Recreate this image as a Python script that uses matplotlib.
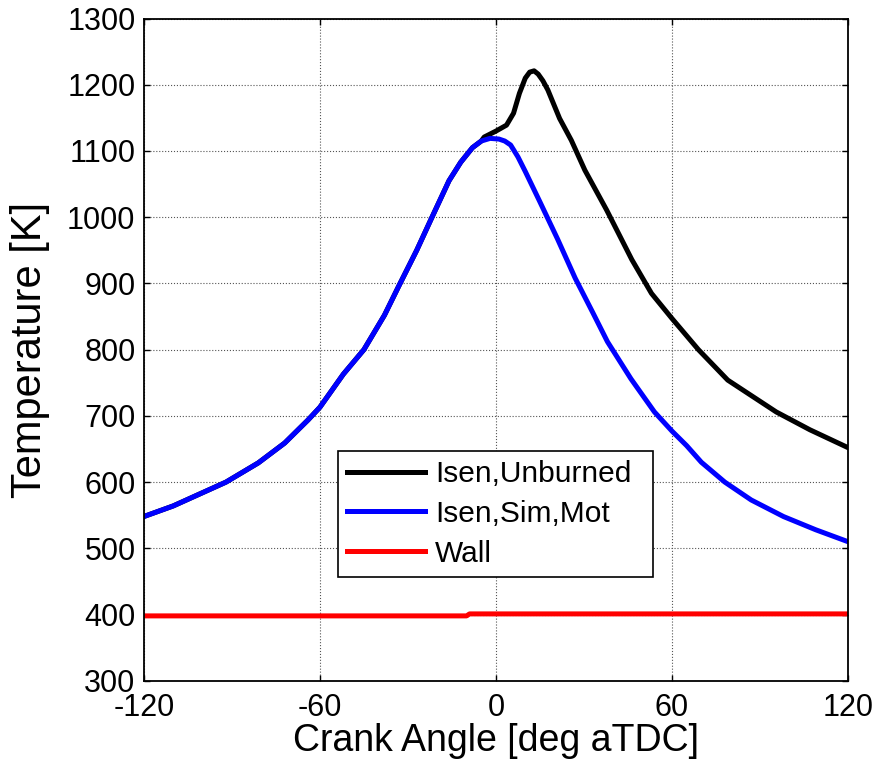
import numpy as np
import matplotlib
matplotlib.use('Agg')
import matplotlib.pyplot as plt

plt.rcParams['font.family'] = ['Liberation Sans', 'DejaVu Sans']
plt.rcParams['axes.unicode_minus'] = False

# crank angle [deg aTDC] / temperature [K]
blue_x = [-120, -110, -100, -92, -81, -72, -64, -60, -52, -45, -38, -33, -27, -22,
          -16, -12, -8, -5, -2, 1, 3, 5, 7.5, 10, 15, 21, 27, 33, 38, 46, 54, 60,
          65, 70, 78, 87, 98, 109, 120]
blue_T = [548, 564, 584, 600, 629, 659, 694, 713, 763, 800, 852, 897, 950, 998,
          1055, 1083, 1105, 1115, 1119, 1118, 1115, 1109, 1091, 1069, 1023, 967,
          908, 856, 812, 756, 706, 677, 655, 630, 600, 573, 548, 528, 510]

black_x = [-120, -110, -100, -92, -81, -72, -64, -60, -52, -45, -38, -33, -27, -22,
           -16, -12, -8, -5, -4, 0, 3.6, 6, 8, 10, 11.5, 13, 14.4, 16, 17.7, 19,
           21.7, 25.7, 30.3, 37.7, 46.3, 53, 60, 69, 79, 95.5, 107, 120]
black_T = [548, 564, 584, 600, 629, 659, 694, 713, 763, 800, 852, 897, 950, 998,
           1055, 1083, 1105, 1115, 1121, 1130, 1139, 1157, 1187, 1210, 1219, 1221,
           1216, 1206, 1192, 1178, 1149, 1116, 1071, 1011, 936, 885, 847, 800, 754,
           706, 679, 652]

wall_x = [-120, -10, -9, 120]
wall_T = [398, 398, 401, 401]

fig = plt.figure(figsize=(8.77, 7.71), dpi=100)
ax = fig.add_axes([0.164, 0.117, 0.803, 0.859])

ax.plot(black_x, black_T, color='black', lw=3.6, label='Isen,Unburned')
ax.plot(blue_x, blue_T, color='blue', lw=3.6, label='Isen,Sim,Mot')
ax.plot(wall_x, wall_T, color='red', lw=3.6, label='Wall')

ax.set_xlim(-120, 120)
ax.set_ylim(300, 1300)
ax.set_xticks([-120, -60, 0, 60, 120])
ax.set_yticks(np.arange(300, 1301, 100))
ax.grid(True, linestyle=':', color='#555555', lw=0.8)
ax.tick_params(direction='in', top=True, right=True, length=4, width=1,
               labelsize=22)
ax.tick_params(axis='y', pad=6)
ax.tick_params(axis='x', pad=9)
for s in ax.spines.values():
    s.set_linewidth(1.3)

ax.set_xlabel('Crank Angle [deg aTDC]', fontsize=27, labelpad=0)
ax.set_ylabel('Temperature [K]', fontsize=30, labelpad=12)

leg = ax.legend(loc='lower left', bbox_to_anchor=(0.2756, 0.157, 0.4475, 0.196),
                mode='expand', borderaxespad=0, fontsize=21.5, fancybox=False,
                handlelength=2.6, handletextpad=0.35, labelspacing=0.4,
                borderpad=0.3)
leg.get_frame().set_edgecolor('black')
leg.get_frame().set_linewidth(1.2)
leg.get_frame().set_alpha(1)

fig.savefig('out.png', dpi=100)
